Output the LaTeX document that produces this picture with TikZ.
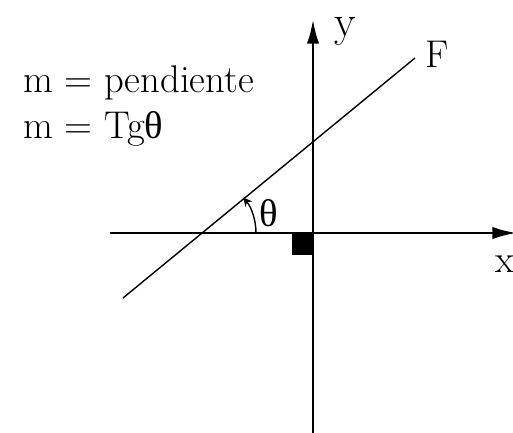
\documentclass[tikz,border=0pt]{standalone}
\usepackage{amsmath,amssymb}
\usepackage{fontspec}
\newfontfamily\grkfont{Liberation Serif}
\usetikzlibrary{arrows.meta,calc}

\begin{document}
\begin{tikzpicture}[scale=1,
    axis/.style={line width=1.7pt,-{Latex[length=14pt,width=7pt]}},
    lbl/.style={font=\fontsize{22}{26}\selectfont}]

\useasboundingbox (-6.26,-3.98) rectangle (4.0,4.66);

% Axes
\coordinate (O) at (0,0);
\coordinate (xL) at (-4.06,0);
\coordinate (xR) at (4.08,0);
\coordinate (yB) at (0,-4.1);
\coordinate (yT) at (0,4.28);
\draw[axis] (xL) -- (xR);
\draw[axis] (yB) -- (yT);
\node[lbl,scale=1.15] (ylab) at (0.64,4.04) {y};
\node[lbl] (xlab) at (3.84,-0.62) {x};

% Square at origin
\fill (O) rectangle (-0.42,-0.44);

% Line F
\coordinate (F1) at (-3.80,-1.30);
\coordinate (F2) at (2.04,3.50);
\coordinate (P) at (-2.26,0);
\draw[line width=0.8pt] (F1) -- (F2);
\node[lbl] (Flab) at (2.48,3.58) {F};

% Angle
\draw[line width=0.8pt,-{Stealth[length=5pt,width=5pt]}] ($(P)+(1.12,0)$) arc (0:39.4:1.12);
\node[lbl] (th) at (-0.88,0.40) {\grkfont θ};

% Text
\node[lbl,anchor=base west] (t1) at (-5.92,2.80) {m = pendiente};
\node[lbl,anchor=base west] (t2) at (-5.92,1.88) {m = Tg{\grkfont θ}};

\end{tikzpicture}
\end{document}
